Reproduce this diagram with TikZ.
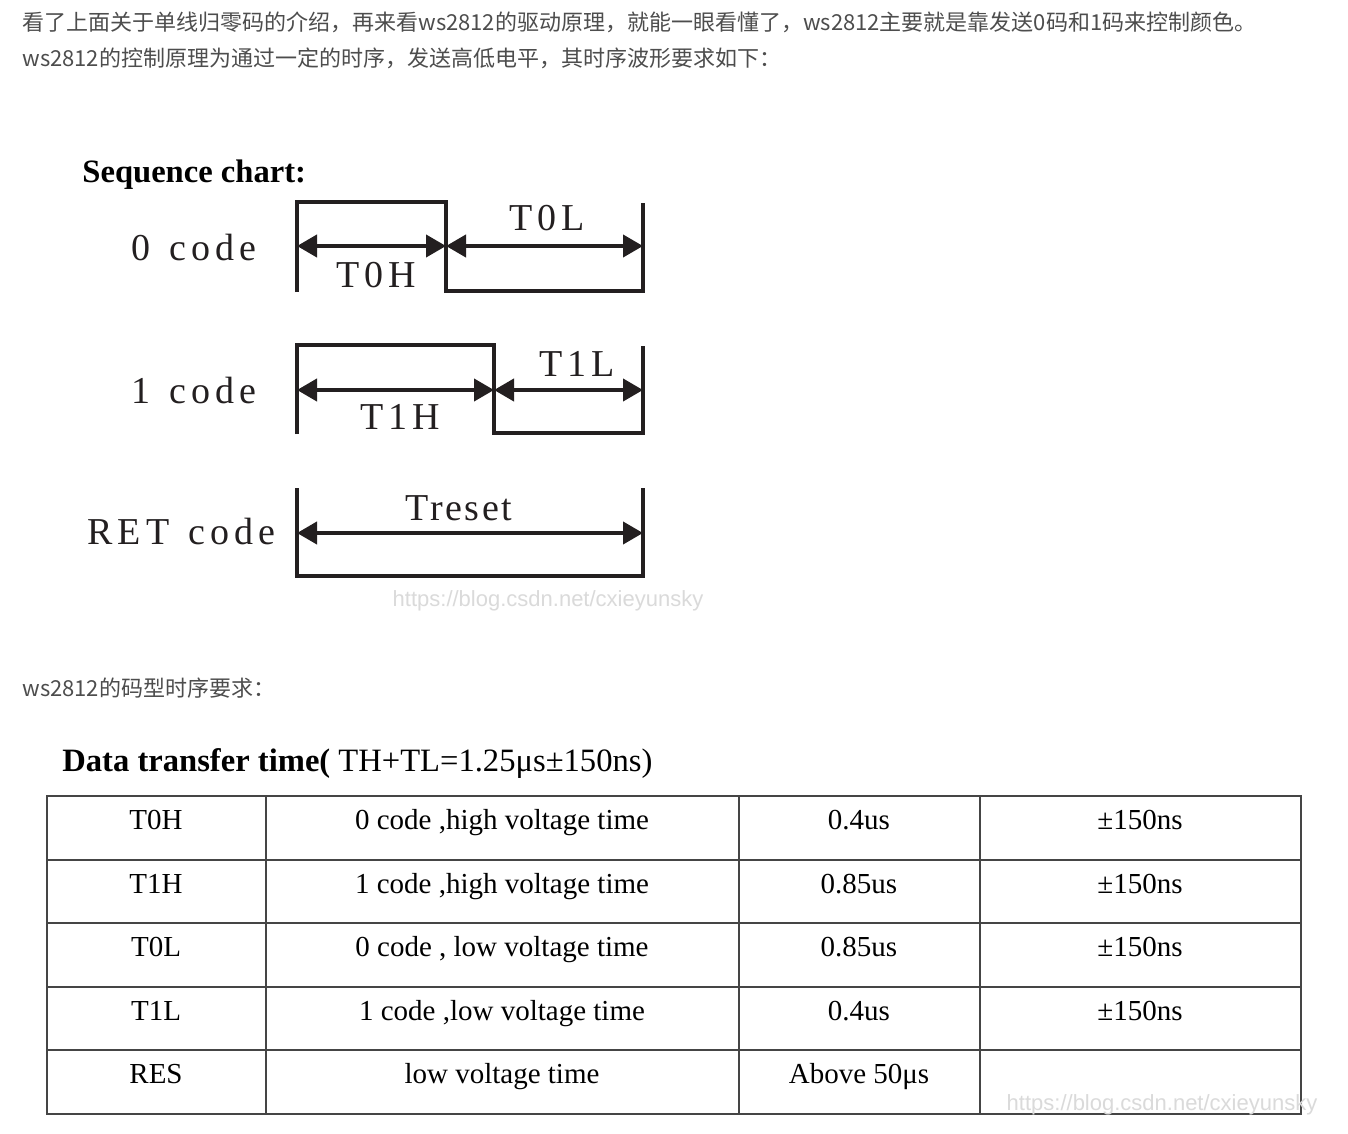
\documentclass[tikz,border=0pt]{standalone}
\usepackage{fontspec}
\setmainfont{Liberation Serif}
\newfontfamily\cjkfont{Noto Sans CJK SC}
\newfontfamily\wavefont[LetterSpace=13.5,WordSpace=1.3]{Liberation Serif}
\newfontfamily\resetfont[LetterSpace=7]{Liberation Serif}
\newfontfamily\markfont{Liberation Sans}
\usetikzlibrary{arrows.meta}
\definecolor{bodygray}{HTML}{4D4D4D}
\definecolor{rulegray}{HTML}{454545}
\definecolor{markgray}{HTML}{DADADA}
\definecolor{inkblack}{HTML}{231F20}
\tikzset{
	wave/.style={line width=1.6pt,draw=inkblack},
	span/.style={line width=2pt,draw=inkblack,{Triangle[length=10pt,width=11pt]}-{Triangle[length=10pt,width=11pt]}},
	wlabel/.style={font=\wavefont\fontsize{19}{21}\selectfont,text=inkblack,inner sep=0pt},
	cjk/.style={font=\cjkfont\fontsize{11}{13}\selectfont,text=bodygray,anchor=west,inner sep=0pt},
	cell/.style={font=\fontsize{14.5}{16}\selectfont,inner sep=0pt,anchor=base},
	tablerule/.style={line width=1pt,draw=rulegray},
	watermark/.style={font=\markfont\fontsize{11}{13}\selectfont,text=markgray,inner sep=0pt},
}
\begin{document}
\begin{tikzpicture}[x=0.5pt,y=-0.5pt]
	\useasboundingbox[fill=white] (0,0) rectangle (1348,1134);
	% intro text
	\node[cjk] (introa) at (22,22) {看了上面关于单线归零码的介绍，再来看ws2812的驱动原理，就能一眼看懂了，ws2812主要就是靠发送0码和1码来控制颜色。};
	\node[cjk] (introb) at (22,58) {ws2812的控制原理为通过一定的时序，发送高低电平，其时序波形要求如下：};
	\node[anchor=west,inner sep=0pt,font=\bfseries\fontsize{16.3}{18}\selectfont] (seqtitle) at (82,175) {Sequence chart:};
	% 0 code
	\coordinate (za) at (297,292);
	\coordinate (zb) at (297,202);
	\coordinate (zc) at (446,202);
	\coordinate (zd) at (446,291);
	\coordinate (ze) at (643,291);
	\coordinate (zf) at (643,203);
	\coordinate (zl) at (297,246);
	\coordinate (zm) at (446,246);
	\coordinate (zr) at (643,246);
	\draw[wave] (za) -- (zb) -- (zc) -- (zd) -- (ze) -- (zf);
	\draw[span] (zl) -- (zm);
	\draw[span] (zm) -- (zr);
	\node[wlabel,anchor=west] (zname) at (131,248) {0 code};
	\node[wlabel] (tzh) at (376,275) {T0H};
	\node[wlabel] (tzl) at (547,218) {T0L};
	% 1 code
	\coordinate (oa) at (297,434);
	\coordinate (ob) at (297,345);
	\coordinate (oc) at (494,345);
	\coordinate (od) at (494,433);
	\coordinate (oe) at (643,433);
	\coordinate (of) at (643,346);
	\coordinate (ol) at (297,390);
	\coordinate (om) at (494,390);
	\coordinate (or) at (643,390);
	\draw[wave] (oa) -- (ob) -- (oc) -- (od) -- (oe) -- (of);
	\draw[span] (ol) -- (om);
	\draw[span] (om) -- (or);
	\node[wlabel,anchor=west] (oname) at (131,390) {1 code};
	\node[wlabel] (toh) at (400,417) {T1H};
	\node[wlabel] (tol) at (577,364) {T1L};
	% RET code
	\coordinate (ra) at (297,488);
	\coordinate (rb) at (297,576);
	\coordinate (rc) at (643,576);
	\coordinate (rd) at (643,488);
	\coordinate (rl) at (297,533);
	\coordinate (rr) at (643,533);
	\draw[wave] (ra) -- (rb) -- (rc) -- (rd);
	\draw[span] (rl) -- (rr);
	\node[wlabel,anchor=west] (rname) at (87,531) {RET code};
	\node[wlabel,font=\resetfont\fontsize{19}{21}\selectfont] (treset) at (459,508) {Treset};
	\node[watermark] (marka) at (548,601) {https://blog.csdn.net/cxieyunsky};
	% table
	\node[cjk] (tableintro) at (22,688) {ws2812的码型时序要求：};
	\node[anchor=west,inner sep=0pt,font=\fontsize{16.3}{18}\selectfont] (tabletitle) at (62,764) {\textbf{Data transfer time(} TH+TL=1.25μs±150ns)};
	\draw[tablerule] (47,796) rectangle (1301,1114);
	\foreach \y in {860,923,987,1050}
		\draw[tablerule] (47,\y) -- (1301,\y);
	\foreach \x in {266,739,980}
		\draw[tablerule] (\x,796) -- (\x,1114);
	\foreach \y/\a/\b/\c/\d [count=\i] in {829/T0H/{0 code ,high voltage time}/0.4us/±150ns,
		893/T1H/{1 code ,high voltage time}/0.85us/±150ns,
		956/T0L/{0 code , low voltage time}/0.85us/±150ns,
		1020/T1L/{1 code ,low voltage time}/0.4us/±150ns,
		1083/RES/low voltage time/Above 50μs/{}}{
		\node[cell] (cell-\i-a) at (156,\y) {\a};
		\node[cell] (cell-\i-b) at (502,\y) {\b};
		\node[cell] (cell-\i-c) at (859,\y) {\c};
		\node[cell] (cell-\i-d) at (1140,\y) {\d};
	}
	\node[watermark] (markb) at (1162,1105) {https://blog.csdn.net/cxieyunsky};
\end{tikzpicture}
\end{document}
